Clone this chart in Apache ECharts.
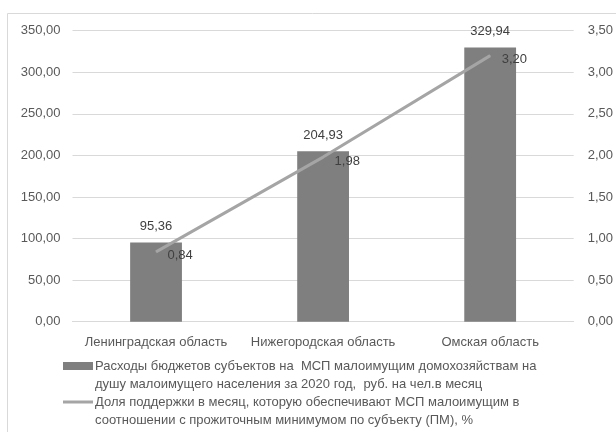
<!DOCTYPE html>
<html>
<head>
<meta charset="utf-8">
<script src="https://cdn.jsdelivr.net/npm/echarts@6/dist/echarts.min.js"></script>
<style>
  html, body { margin: 0; padding: 0; background: #fff; }
  #chart { width: 616px; height: 432px; }
</style>
</head>
<body>
<div id="chart"></div>
<script>
// данные
const regions = ['Ленинградская область', 'Нижегородская область', 'Омская область'];
const spending = [95.36, 204.93, 329.94];
const supportShare = [0.84, 1.98, 3.20];
const barName = 'Расходы бюджетов субъектов на  МСП малоимущим домохозяйствам на\nдушу малоимущего населения за 2020 год,  руб. на чел.в месяц';
const lineName = 'Доля поддержки в месяц, которую обеспечивают МСП малоимущим в\nсоотношении с прожиточным минимумом по субъекту (ПМ), %';

const font = '"Liberation Sans", Arial, sans-serif';
const barColor = '#7F7F7F';
const lineColor = '#A5A5A5';
const fmt = v => Number(v).toFixed(2).replace('.', ',');

const chart = echarts.init(document.getElementById('chart'));

// легенда — как в Excel: значок на уровне первой строки
const legendText = (text, top) => ({
  type: 'text',
  silent: true,
  left: 95,
  top: top,
  style: { text: text, fill: '#595959', font: '13px ' + font, lineHeight: 18 }
});

chart.setOption({
  animation: false,
  textStyle: { fontFamily: font },
  graphic: [{
    type: 'rect',
    silent: true,
    shape: { x: 7.5, y: 13.5, width: 700, height: 500 },
    style: { fill: 'none', stroke: '#D9D9D9', lineWidth: 1 }
  }, {
    type: 'rect',
    silent: true,
    shape: { x: 63, y: 362, width: 30, height: 8 },
    style: { fill: barColor }
  }, legendText(barName, 357), {
    type: 'rect',
    silent: true,
    shape: { x: 63, y: 400.5, width: 30, height: 3 },
    style: { fill: lineColor }
  }, legendText(lineName, 393)],
  grid: { left: 72.5, right: 39.5, top: 30.7, bottom: 110.3 },
  xAxis: {
    type: 'category',
    data: regions,
    axisLine: { lineStyle: { color: '#D9D9D9' } },
    axisTick: { show: false },
    axisLabel: { color: '#595959', fontSize: 13, margin: 14, interval: 0 }
  },
  yAxis: [{
    type: 'value',
    min: 0,
    max: 350,
    interval: 50,
    axisLine: { show: false },
    axisTick: { show: false },
    splitLine: { lineStyle: { color: '#D9D9D9' } },
    axisLabel: { color: '#595959', fontSize: 13, margin: 12, formatter: fmt }
  }, {
    type: 'value',
    min: 0,
    max: 3.5,
    interval: 0.5,
    axisLine: { show: false },
    axisTick: { show: false },
    splitLine: { show: false },
    axisLabel: { color: '#595959', fontSize: 13, margin: 14, formatter: fmt }
  }],
  series: [{
    name: barName,
    type: 'bar',
    data: spending,
    barWidth: '31%',
    itemStyle: { color: barColor },
    label: {
      show: true,
      position: 'top',
      distance: 9,
      color: '#404040',
      fontSize: 13,
      formatter: p => fmt(p.value)
    }
  }, {
    name: lineName,
    type: 'line',
    yAxisIndex: 1,
    data: supportShare,
    symbol: 'circle',
    symbolSize: 1,
    showSymbol: true,
    lineStyle: { color: lineColor, width: 3 },
    itemStyle: { color: lineColor },
    label: {
      show: true,
      position: 'right',
      distance: 11,
      offset: [0, 4],
      color: '#404040',
      fontSize: 13,
      formatter: p => fmt(p.value)
    }
  }]
});
</script>
</body>
</html>
